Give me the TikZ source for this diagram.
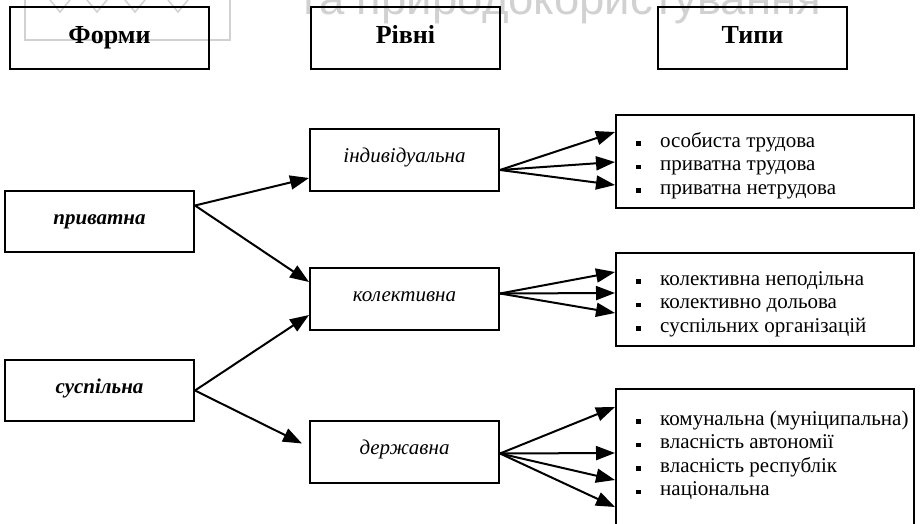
\documentclass[tikz,border=0pt]{standalone}
\usepackage{fontspec}
\setmainfont{Liberation Serif}
\newfontfamily\wmfont{Liberation Sans}
\usetikzlibrary{arrows.meta}
\newcommand\itm{\strut\makebox[24pt][l]{\rule[1.5pt]{4.5pt}{4.5pt}}}

\begin{document}
\begin{tikzpicture}[x=1pt,y=1pt,
    box/.style={draw,line width=2pt,inner sep=0pt,minimum width=189pt,minimum height=62pt},
    head/.style={box,font=\fontsize{26}{30}\selectfont\bfseries,text height=19pt,text depth=7pt},
    form/.style={box,minimum height=61pt,font=\fontsize{21}{24}\selectfont\bfseries\itshape,text height=10pt,text depth=5pt},
    lvl/.style={box,font=\fontsize{21}{24}\selectfont\itshape,text height=10pt,text depth=5pt},
    typ/.style={draw,line width=2pt,inner sep=0pt,minimum width=298pt,anchor=north west},
    lst/.style={inner sep=0pt,anchor=north west,align=left,font=\fontsize{21}{23.5}\selectfont},
    arr/.style={line width=2pt,-{Triangle[length=19pt,width=14pt]}},
    wm/.style={black!18,line width=1.5pt}]
    \useasboundingbox (0,0) rectangle (923,-524);
    \draw[wm] (25,10) |- (230,-40) -- (230,10);
    \foreach \x in {60,97,135,178}
        \draw[wm] (\x-10,0) -- (\x,-12) -- (\x+10,0);
    \node[wm,font=\wmfont\fontsize{45.5}{46}\selectfont,anchor=base west,inner sep=0pt] (wmark) at (298,-15) {та природокористування};
    \node[head,minimum width=199pt] (forms) at (109.5,-38) {Форми};
    \node[head] (levels) at (405.5,-38) {Рівні};
    \node[head] (types) at (752.5,-38) {Типи};
    \node[form] (priv) at (99.5,-221.5) {приватна};
    \node[form] (susp) at (99.5,-390.5) {суспільна};
    \node[lvl] (ind) at (404.5,-160) {індивідуальна};
    \node[lvl] (kol) at (404.5,-298.5) {колективна};
    \node[lvl] (der) at (404.5,-451.5) {державна};
    \node[typ,minimum height=93pt] (t1) at (615,-114) {};
    \node[typ,minimum height=93pt] (t2) at (615,-252) {};
    \node[typ,minimum height=150pt] (t3) at (615,-388) {};
    \node[lst] (l1) at ([shift={(21pt,-16.5pt)}]t1.north west) {\itm особиста трудова\\ \itm приватна трудова\\ \itm приватна нетрудова};
    \node[lst] (l2) at ([shift={(21pt,-16.5pt)}]t2.north west) {\itm колективна неподільна\\ \itm колективно дольова\\ \itm суспільних організацій};
    \node[lst] (l3) at ([shift={(21pt,-20.5pt)}]t3.north west) {\itm комунальна (муніципальна)\\ \itm власність автономії\\ \itm власність республік\\ \itm національна};
    \draw[arr] ([yshift=16pt]priv.east) -- ([yshift=-18pt]ind.west);
    \draw[arr] ([yshift=16pt]priv.east) -- ([yshift=16.5pt]kol.west);
    \draw[arr] (susp.east) -- ([yshift=-16.5pt]kol.west);
    \draw[arr] (susp.east) -- ([shift={(-7pt,8pt)}]der.west);
    \foreach \d in {18,48,71}
        \draw[arr] ([yshift=-10pt]ind.east) -- ([yshift=-\d pt]t1.north west);
    \foreach \d in {20,41,61}
        \draw[arr] ([yshift=5pt]kol.east) -- ([yshift=-\d pt]t2.north west);
    \foreach \d in {19,65,92,119}
        \draw[arr] ([yshift=-2pt]der.east) -- ([yshift=-\d pt]t3.north west);
\end{tikzpicture}
\end{document}
